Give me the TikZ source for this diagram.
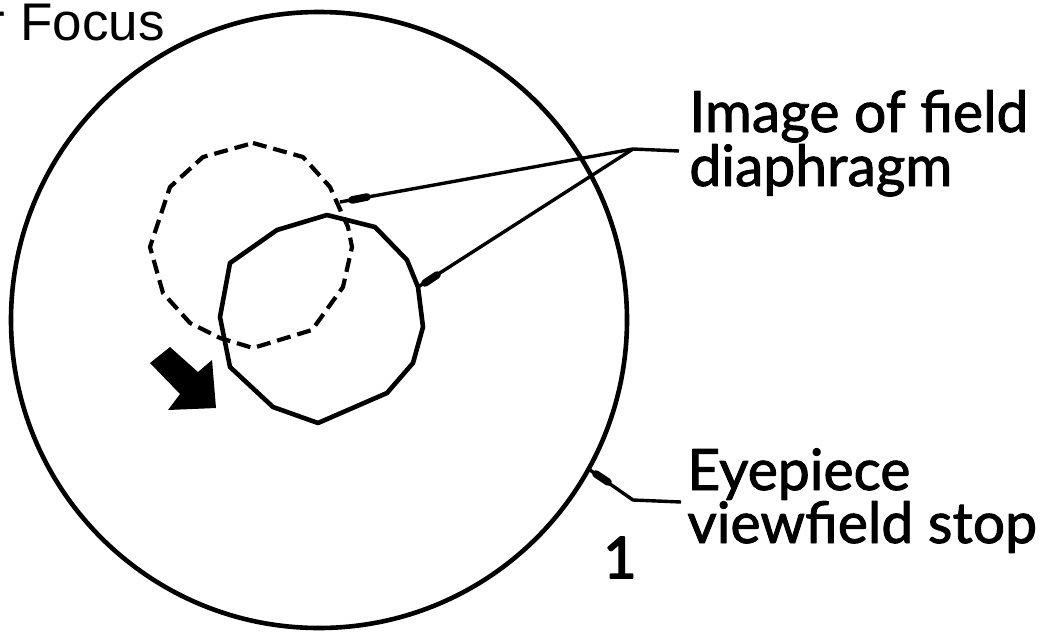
\documentclass[tikz,border=0pt]{standalone}
\usepackage{fontspec}
\setmainfont{Lato}
\newfontfamily\lblfont{Lato}[FakeBold=1.6]
\newfontfamily\numfont{Lato}[FakeBold=3]
\newfontfamily\arialfont{Liberation Sans}
\begin{document}
\begin{tikzpicture}[x=0.5pt,y=-0.5pt,line join=round,
  stopline/.style={line width=2.3pt},
  leader/.style={line width=1.7pt},
  blob/.style={line width=3.8pt,line cap=round},
  lbl/.style={font=\lblfont\fontsize{28.5}{29}\selectfont,anchor=base west,inner sep=0pt}]
\useasboundingbox (0,0) rectangle (1056,634);
\fill[white] (0,0) rectangle (1056,634);
% eyepiece viewfield stop
\draw[stopline] (319,320) circle [radius=308];
% dashed image of field diaphragm (before focusing)
\draw[line width=2.1pt,dash pattern=on 7pt off 3.5pt]
  (253,143)--(303,157)--(330,187)--(348,227)--(352,247)--(343,287)--(312,330)--(253,348)--(220,338)--(190,323)--(163,293)--(150,247)--(170,187)--(203,157)--cycle;
% solid image of field diaphragm
\draw[line width=2.3pt]
  (327,215)--(375,227)--(407,260)--(418,287)--(423,327)--(413,363)--(387,393)--(318,423)--(273,407)--(230,367)--(220,317)--(230,263)--(277,230)--cycle;
% black arrow
\fill (150,363)--(170,347)--(198,372)--(212,360)--(216,408)--(168,410)--(180,394)--cycle;
% coordinates
\coordinate (dEnd) at (340,202);
\coordinate (sEnd) at (418,287);
\coordinate (jn) at (633,149);
\coordinate (imgEnd) at (679,151);
\coordinate (cEnd) at (590,470);
\coordinate (bend) at (633,500);
\coordinate (eyeEnd) at (681,502);
% labels
\node[lbl] (img1) at (689,132) {Image of field};
\node[lbl] (img2) at (689,186) {diaphragm};
\node[lbl] (eye1) at (687,490) {Eyepiece};
\node[lbl] (eye2) at (687,543) {viewfield stop};
\node[lbl,font=\numfont\fontsize{28.5}{29}\selectfont] (num) at (603,578) {1};
\node[font=\arialfont\fontsize{26.5}{28}\selectfont,anchor=base east,inner sep=0pt] (title) at (165,40) {r Focus};
% leaders
\draw[leader] (imgEnd)--(jn)--(dEnd);
\draw[leader] (jn)--(sEnd);
\draw[blob] (352,200)--(367,197);
\draw[blob] (425,283)--(437,275);
\draw[leader] (cEnd)--(bend)--(eyeEnd);
\draw[blob] (596,474)--(608,482);
\end{tikzpicture}
\end{document}
